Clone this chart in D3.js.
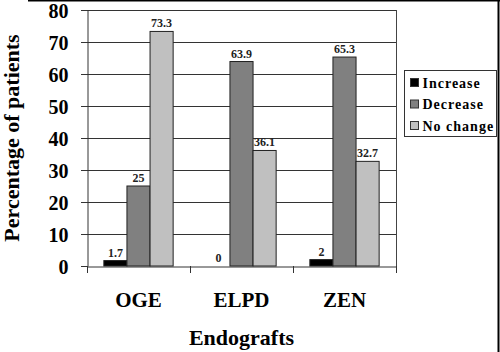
<!DOCTYPE html>
<html>
<head>
<meta charset="utf-8">
<script src="https://cdn.jsdelivr.net/npm/d3@7"></script>
<style>
  body { margin: 0; background: #fff; }
</style>
</head>
<body>
<svg id="drawing_region"></svg>
<script>
const categories = ['OGE', 'ELPD', 'ZEN'];
const seriesNames = ['Increase', 'Decrease', 'No change'];
const increase = [1.7, 0, 2];
const decrease = [25, 63.9, 65.3];
const noChange = [73.3, 36.1, 32.7];
const yTicks = [0, 10, 20, 30, 40, 50, 60, 70, 80];
const colors = ['#000000', '#808080', '#c0c0c0'];

const serif = "'Liberation Serif', 'Times New Roman', serif";
const width = 500, height = 352;
const margin = { left: 87, right: 104, top: 10, bottom: 86 };

const svg = d3.select('#drawing_region')
    .attr('width', width)
    .attr('height', height);

// outer frame lines (top and right)
svg.append('line').attr('x1', 28).attr('x2', 500).attr('y1', 0.5).attr('y2', 0.5)
    .attr('stroke', '#000').attr('stroke-width', 2);
svg.append('line').attr('x1', 498.5).attr('x2', 498.5).attr('y1', 0).attr('y2', 352)
    .attr('stroke', '#000').attr('stroke-width', 2);

const x = d3.scaleBand()
    .domain(categories)
    .range([margin.left, width - margin.right]);

const y = d3.scaleLinear()
    .domain([0, 80])
    .range([height - margin.bottom, margin.top]);

const inner = d3.scaleBand()
    .domain(seriesNames)
    .range([0, x.bandwidth()])
    .paddingOuter(0.73)
    .paddingInner(0);

// grid lines
svg.append('g')
    .selectAll('line')
    .data(yTicks.slice(1))
    .join('line')
    .attr('x1', margin.left).attr('x2', width - margin.right)
    .attr('y1', d => Math.round(y(d)) + 0.5).attr('y2', d => Math.round(y(d)) + 0.5)
    .attr('stroke', '#333').attr('stroke-width', 1);

// right frame of plot
svg.append('line')
    .attr('x1', width - margin.right + 0.5).attr('x2', width - margin.right + 0.5)
    .attr('y1', y(80)).attr('y2', y(0))
    .attr('stroke', '#444');

// y axis
const yAxis = svg.append('g')
    .attr('transform', `translate(${margin.left + 0.5},0)`)
    .call(d3.axisLeft(y).tickValues(yTicks).tickSize(0).tickPadding(19));
yAxis.select('.domain').attr('stroke', '#333');
yAxis.selectAll('text')
    .style('font-family', serif)
    .attr('font-size', 20).attr('font-weight', 'bold').attr('fill', '#000')
    .attr('dy', '0.36em');

// tick marks at the left of each y value
svg.append('g')
    .selectAll('line')
    .data(yTicks)
    .join('line')
    .attr('x1', margin.left - 6).attr('x2', margin.left)
    .attr('y1', d => Math.round(y(d)) + 0.5).attr('y2', d => Math.round(y(d)) + 0.5)
    .attr('stroke', '#333');

// x axis
const xAxis = svg.append('g')
    .attr('transform', `translate(0,${Math.round(y(0)) + 0.5})`)
    .call(d3.axisBottom(x).tickSize(0).tickPadding(26));
xAxis.select('.domain').attr('stroke', '#333');
xAxis.selectAll('text')
    .style('font-family', serif)
    .attr('font-size', 21).attr('font-weight', 'bold').attr('fill', '#000');

// category boundary ticks
const bounds = categories.map(c => x(c)).concat([x(categories[categories.length - 1]) + x.bandwidth()]);
svg.append('g')
    .selectAll('line')
    .data(bounds)
    .join('line')
    .attr('x1', d => Math.round(d) + 0.5).attr('x2', d => Math.round(d) + 0.5)
    .attr('y1', y(0)).attr('y2', y(0) + 7)
    .attr('stroke', '#333');

// bars
const series = [increase, decrease, noChange];
const rows = [];
categories.forEach((c, i) => {
    seriesNames.forEach((s, j) => {
        rows.push({ cat: c, name: s, value: series[j][i], color: colors[j] });
    });
});

svg.append('g')
    .selectAll('rect')
    .data(rows)
    .join('rect')
    .attr('x', d => x(d.cat) + inner(d.name))
    .attr('y', d => y(d.value))
    .attr('width', inner.bandwidth())
    .attr('height', d => y(0) - y(d.value))
    .attr('fill', d => d.color)
    .attr('stroke', '#222')
    .attr('stroke-width', 1);

// value labels
svg.append('g')
    .selectAll('text')
    .data(rows)
    .join('text')
    .attr('x', d => x(d.cat) + inner(d.name) + inner.bandwidth() / 2)
    .attr('y', d => y(d.value) - 4)
    .attr('text-anchor', 'middle')
    .style('font-family', serif)
    .attr('font-size', 12)
    .attr('font-weight', 'bold')
    .attr('fill', '#222')
    .text(d => d.value);

// axis titles
svg.append('text')
    .attr('x', (margin.left + width - margin.right) / 2)
    .attr('y', 345)
    .attr('text-anchor', 'middle')
    .style('font-family', serif)
    .attr('font-size', 22).attr('font-weight', 'bold')
    .text('Endografts');

svg.append('text')
    .attr('transform', `translate(19,${(y(0) + y(80)) / 2}) rotate(-90)`)
    .attr('text-anchor', 'middle')
    .style('font-family', serif)
    .attr('font-size', 22).attr('font-weight', 'bold')
    .text('Percentage of patients');

// legend
const legend = svg.append('g').attr('transform', 'translate(404.5,70.5)');
legend.append('rect')
    .attr('width', 92).attr('height', 66)
    .attr('fill', '#fff').attr('stroke', '#333');
const items = legend.selectAll('g')
    .data(seriesNames)
    .join('g')
    .attr('transform', (d, i) => `translate(6,${12 + i * 21.5})`);
items.append('rect')
    .attr('x', 0).attr('y', -4)
    .attr('width', 8).attr('height', 8)
    .attr('fill', (d, i) => colors[i])
    .attr('stroke', '#333');
items.append('text')
    .attr('x', 12).attr('y', 5)
    .style('font-family', serif)
    .attr('font-size', 14).attr('font-weight', 'bold')
    .attr('letter-spacing', 1)
    .text(d => d);
</script>
</body>
</html>
